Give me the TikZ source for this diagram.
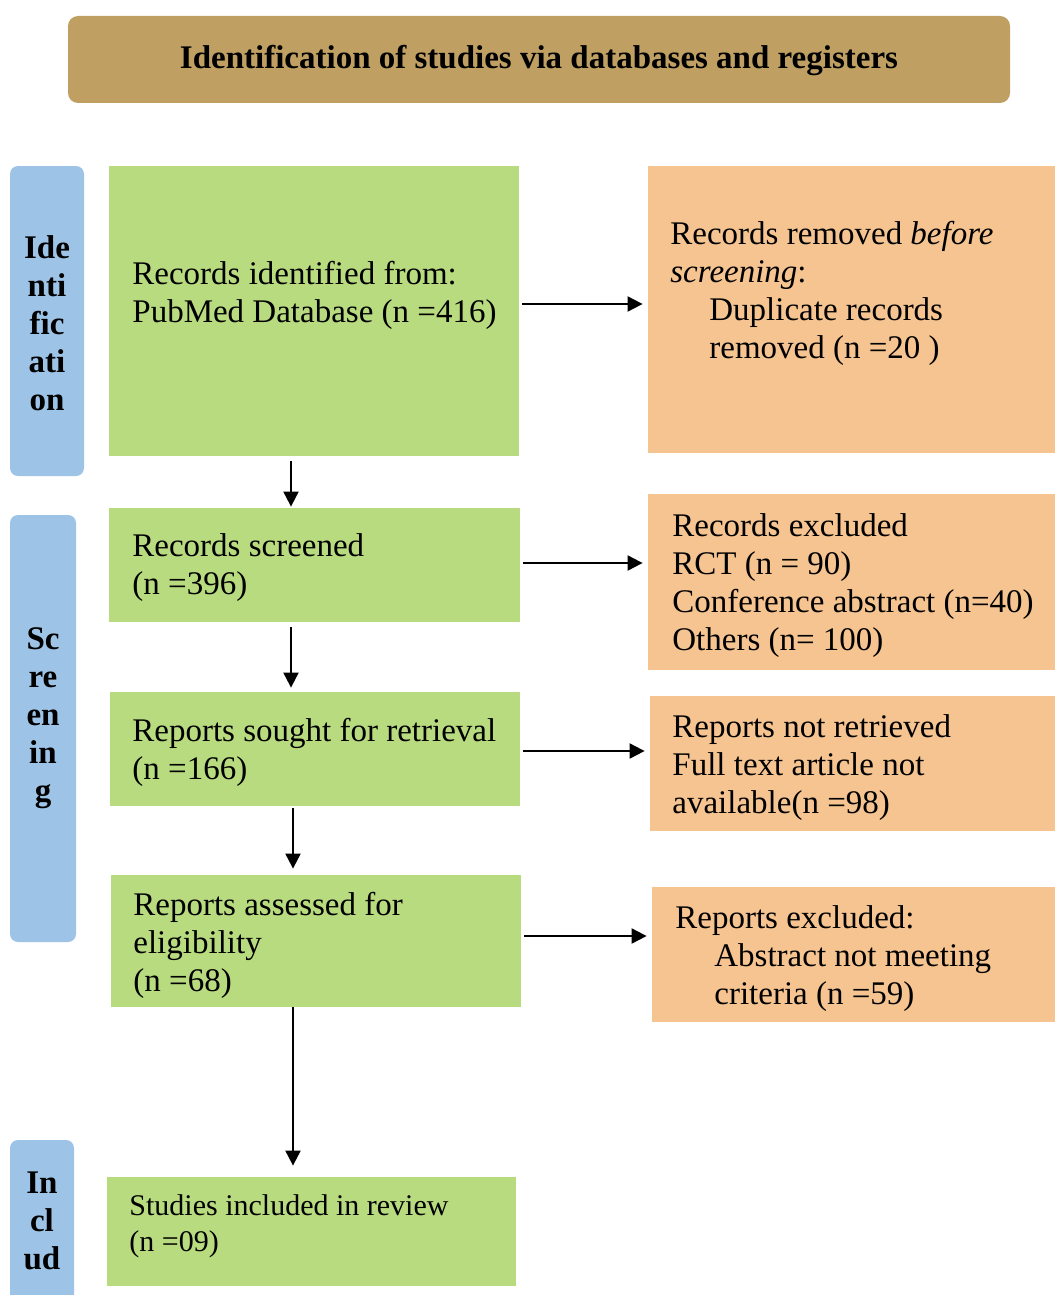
\documentclass[tikz,border=0pt]{standalone}
\usepackage{fontspec}
\setmainfont{Liberation Serif}
\usetikzlibrary{arrows.meta,fit,calc}

\definecolor{headtan}{RGB}{191,160,98}
\definecolor{phaseblue}{RGB}{157,195,230}
\definecolor{boxgreen}{RGB}{185,219,128}
\definecolor{boxorange}{RGB}{245,196,145}
\newcommand{\flowfont}{\fontsize{16.5}{19}\selectfont}

\begin{document}
\begin{tikzpicture}[x=0.5pt, y=-0.5pt,
    header/.style={fill=headtan, rounded corners=5pt, inner sep=0pt},
    phase/.style={fill=phaseblue, rounded corners=4pt, inner sep=0pt},
    greenbox/.style={fill=boxgreen, inner sep=0pt},
    orangebox/.style={fill=boxorange, inner sep=0pt},
    boxtext/.style={anchor=base west, text width=190pt, inner sep=0pt, font=\flowfont,
      execute at begin node={\spaceskip=0pt\relax\xspaceskip=0pt\relax}},
    phasetext/.style={align=center, inner sep=0pt, font=\flowfont\bfseries},
    flow/.style={-{Triangle[length=7.5pt, width=7.5pt]}, line width=1pt, shorten <=1.5pt, shorten >=2.5pt}]
    \useasboundingbox (0,0) rectangle (1055,1295);

    % Nodes
    \node [header, fit={(68,16) (1010,103)}] (head) {};
    \node [font=\flowfont\bfseries, inner sep=0pt] (headtext) at (539,61) {Identification of studies via databases and registers};

    \node [phase, fit={(10,166) (84,476)}] (idphase) {};
    \node [phasetext] (idlabel) at (47,323) {Ide\\nti\\fic\\ati\\on};
    \node [phase, fit={(10,515) (76,942)}] (scphase) {};
    \node [phasetext] (sclabel) at (43,718) {Sc\\re\\en\\in\\g};
    \node [phase, fit={(10,1140) (74,1320)}] (inphase) {};
    \node [phasetext] (inlabel) at (42,1221) {In\\cl\\ud};

    \node [greenbox, fit={(109,166) (519,456)}] (ident) {};
    \node [boxtext] (identtext) at (132,284) {Records identified from:\\PubMed Database (n =416)};
    \node [greenbox, fit={(109,508) (520,622)}] (screened) {};
    \node [boxtext] (screenedtext) at (132,556) {Records screened\\(n =396)};
    \node [greenbox, fit={(110,692) (520,806)}] (sought) {};
    \node [boxtext] (soughttext) at (132,741) {Reports sought for retrieval\\(n =166)};
    \node [greenbox, fit={(111,875) (521,1007)}] (assessed) {};
    \node [boxtext] (assessedtext) at (133,915) {Reports assessed for\\eligibility\\(n =68)};
    \node [greenbox, fit={(107,1177) (516,1286)}] (included) {};
    \node [boxtext, font=\fontsize{15}{18}\selectfont] (includedtext) at (129,1215) {Studies included in review\\(n =09)};

    \node [orangebox, fit={(648,166) (1055,453)}] (removed) {};
    \node [boxtext] (removedtext) at (670,244) {Records removed \textit{before}\\\textit{screening}:\\\hspace*{19.5pt}Duplicate records\\\hspace*{19.5pt}removed (n =20 )};
    \node [orangebox, fit={(648,494) (1055,670)}] (excluded) {};
    \node [boxtext] (excludedtext) at (672,536) {Records excluded\\RCT (n = 90)\\Conference abstract (n=40)\\Others (n= 100)};
    \node [orangebox, fit={(650,696) (1055,831)}] (notretr) {};
    \node [boxtext] (notretrtext) at (672,737) {Reports not retrieved\\Full text article not\\available(n =98)};
    \node [orangebox, fit={(652,887) (1055,1022)}] (exclrep) {};
    \node [boxtext] (exclreptext) at (675,928) {Reports excluded:\\\hspace*{19.5pt}Abstract not meeting\\\hspace*{19.5pt}criteria (n =59)};

    % Connections
    \coordinate (a1) at ([shift={(0,-7)}]ident.east);
    \coordinate (a2) at ([shift={(0,-2)}]screened.east);
    \coordinate (a3) at ([shift={(0,2)}]sought.east);
    \coordinate (a4) at ([shift={(0,-5)}]assessed.east);
    \draw [flow] (a1) -- (a1 -| removed.west);
    \draw [flow] (a2) -- (a2 -| excluded.west);
    \draw [flow] (a3) -- (a3 -| notretr.west);
    \draw [flow] (a4) -- (a4 -| exclrep.west);

    \coordinate (v1) at ([shift={(-23,0)}]ident.south);
    \coordinate (v2) at ([shift={(-23.5,0)}]screened.south);
    \coordinate (v3) at ([shift={(-22,0)}]sought.south);
    \coordinate (v4) at ([shift={(-23,0)}]assessed.south);
    \draw [flow, shorten <=2.5pt, shorten >=0.5pt] (v1) -- (v1 |- screened.north);
    \draw [flow, shorten <=2.5pt, shorten >=2pt] (v2) -- (v2 |- sought.north);
    \draw [flow, shorten <=1pt, shorten >=3pt] (v3) -- (v3 |- assessed.north);
    \draw [flow, shorten <=0pt, shorten >=5.5pt] (v4) -- (v4 |- included.north);
\end{tikzpicture}
\end{document}
